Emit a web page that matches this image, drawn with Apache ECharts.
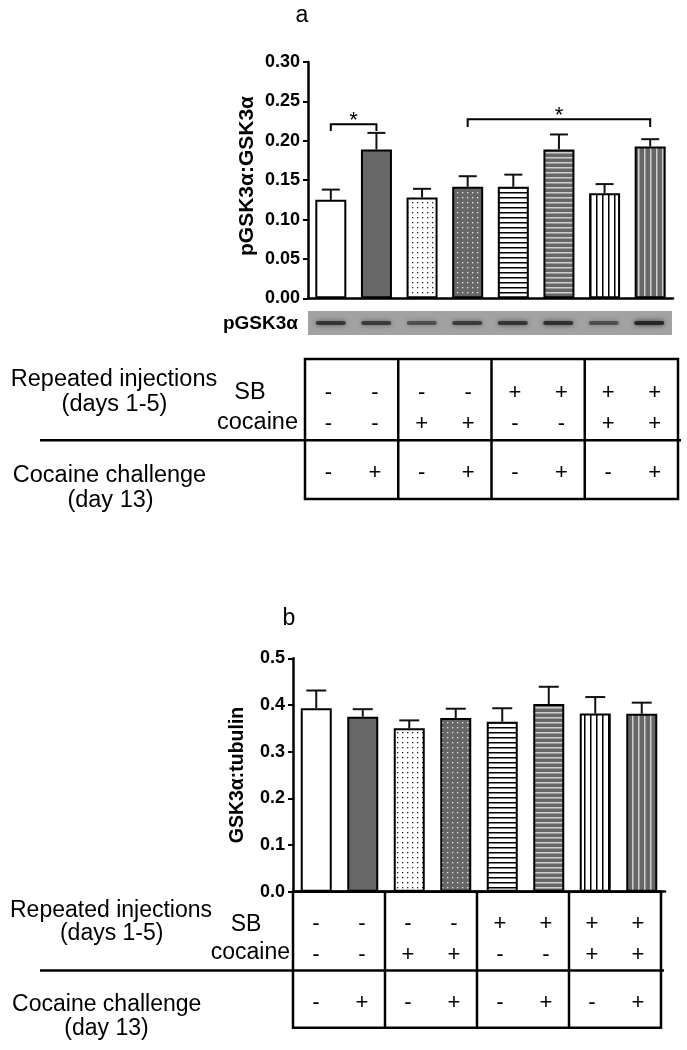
<!DOCTYPE html>
<html><head><meta charset="utf-8">
<script src="https://cdn.jsdelivr.net/npm/echarts@6/dist/echarts.min.js"></script>
<style>html,body{margin:0;padding:0;background:#fff}#c{width:687px;height:1050px}</style>
</head><body><div id="c"></div>
<script>
// ---- data ----
const groups = ['G1','G2','G3','G4','G5','G6','G7','G8'];
const pMeans  = [0.125, 0.189, 0.128, 0.1415, 0.1415, 0.189, 0.1335, 0.1927];
const pErrTop = [0.138, 0.210, 0.139, 0.155, 0.157, 0.208, 0.145, 0.202];
const tMeans  = [0.393, 0.375, 0.350, 0.372, 0.364, 0.402, 0.382, 0.381];
const tErrTop = [0.431, 0.391, 0.367, 0.392, 0.393, 0.439, 0.417, 0.405];
const pAxis = [0, 0.30, 0.05];   // min, max, step
const tAxis = [0, 0.5, 0.1];
const sbSigns        = ['-','-','-','-','+','+','+','+'];
const cocaineSigns   = ['-','-','+','+','-','-','+','+'];
const challengeSigns = ['-','+','-','+','-','+','-','+'];
const blotIntensity  = [0.75, 0.7, 0.55, 0.7, 0.75, 0.8, 0.55, 0.9];
// significance brackets: [fromIndex, toIndex, legBottom, top]
const sigBrackets = [[0, 1, 0.2125, 0.221], [3, 7, 0.2176, 0.2273]];

// ---- styles ----
const FONT = 'Liberation Sans';
function pat(bg, fg, kind){
  const c = document.createElement('canvas');
  let w = 5, h = 5;
  if (kind === 'h') { w = 4; h = 5; }
  if (kind === 'v') { w = 6; h = 4; }
  c.width = w; c.height = h;
  const g = c.getContext('2d');
  g.fillStyle = bg; g.fillRect(0, 0, w, h);
  g.fillStyle = fg;
  if (kind === 'dot') g.fillRect(2, 2, 1.3, 1.3);
  if (kind === 'h') g.fillRect(0, 2, w, 1.5);
  if (kind === 'v') g.fillRect(2, 0, 1.5, h);
  return {image: c, repeat: 'repeat'};
}
const DARK = '#676767';
const fills = ['#ffffff', DARK, pat('#ffffff','#222','dot'), pat(DARK,'#e6e6e6','dot'),
               pat('#ffffff','#000','h'), pat(DARK,'#cfcfcf','h'),
               pat('#ffffff','#000','v'), pat(DARK,'#cfcfcf','v')];

const rowFrac = {sb: 0.24, coc: 0.462, mid: 0.58, chal: 0.817};

function errRender(cap){
  return function(params, api){
    const i = api.value(0);
    const p0 = api.coord([i, api.value(1)]);
    const p1 = api.coord([i, api.value(2)]);
    const st = {stroke: '#111', lineWidth: 2};
    return {type: 'group', children: [
      {type: 'line', shape: {x1: p0[0], y1: p0[1], x2: p1[0], y2: p1[1]}, style: st},
      {type: 'line', shape: {x1: p1[0]-cap, y1: p1[1], x2: p1[0]+cap, y2: p1[1]}, style: st}
    ]};
  };
}
function bracketRender(params, api){
  const a0 = api.coord([api.value(0), api.value(2)]);
  const a1 = api.coord([api.value(0), api.value(3)]);
  const b0 = api.coord([api.value(1), api.value(2)]);
  const b1 = api.coord([api.value(1), api.value(3)]);
  return {type: 'group', children: [
    {type: 'polyline', shape: {points: [a0, a1, b1, b0]}, style: {stroke: '#000', lineWidth: 2, fill: null}},
    {type: 'text', x: (a1[0]+b1[0])/2, y: a1[1]-3, style: {text: '*', fontSize: 22, fontFamily: FONT, fill: '#000', align: 'center', verticalAlign: 'middle'}}
  ]};
}
function blotRender(params, api){
  const p = api.coord([api.value(0), 0.5]);
  const v = api.value(1);
  const col = 'rgba(30,30,30,' + v + ')';
  return {type: 'rect', shape: {x: p[0]-15, y: p[1]-2, width: 30, height: 4, r: 2},
          style: {fill: col, shadowBlur: 5, shadowColor: col}};
}
function tableRender(lineStartX, fs){
  return function(params, api){
    const i = params.dataIndex;
    const cs = params.coordSys;
    const x = api.coord([i, 0])[0];
    const yAt = f => cs.y + f * cs.height;
    const tf = {fontSize: fs, fontFamily: FONT, fill: '#000', align: 'center', verticalAlign: 'middle'};
    const kids = [
      {type: 'text', x: x, y: yAt(rowFrac.sb), style: Object.assign({text: sbSigns[i]}, tf)},
      {type: 'text', x: x, y: yAt(rowFrac.coc), style: Object.assign({text: cocaineSigns[i]}, tf)},
      {type: 'text', x: x, y: yAt(rowFrac.chal), style: Object.assign({text: challengeSigns[i]}, tf)}
    ];
    if (i === 0) {
      const ls = {stroke: '#000', lineWidth: 2.5};
      kids.push({type: 'rect', shape: {x: cs.x, y: cs.y, width: cs.width, height: cs.height}, style: {fill: null, stroke: '#000', lineWidth: 2.5}});
      kids.push({type: 'line', shape: {x1: lineStartX, y1: yAt(rowFrac.mid), x2: cs.x + cs.width + 3, y2: yAt(rowFrac.mid)}, style: ls});
      [2, 4, 6].forEach(b => {
        const xb = (api.coord([b-1, 0])[0] + api.coord([b, 0])[0]) / 2;
        kids.push({type: 'line', shape: {x1: xb, y1: cs.y, x2: xb, y2: cs.y + cs.height}, style: ls});
      });
    }
    return {type: 'group', children: kids};
  };
}

const axisLineStyle = {lineStyle: {color: '#000', width: 2.5}};
function valueAxis(gi, ax, dec){
  return {type: 'value', gridIndex: gi, min: ax[0], max: ax[1], interval: ax[2],
    axisLine: Object.assign({show: true}, axisLineStyle),
    axisTick: {show: true, length: 5, lineStyle: {color: '#000', width: 2}},
    axisLabel: {formatter: v => v.toFixed(dec), fontSize: 18, fontWeight: 'bold', fontFamily: FONT, color: '#000', margin: 8},
    splitLine: {show: false}};
}
function catAxis(gi){
  return {type: 'category', gridIndex: gi, data: groups,
    axisLine: Object.assign({show: true}, axisLineStyle), axisTick: {show: false}, axisLabel: {show: false}};
}
function hiddenCat(gi){ return {type: 'category', gridIndex: gi, data: groups, show: false}; }
function hiddenVal(gi){ return {type: 'value', gridIndex: gi, min: 0, max: 1, show: false}; }

function txt(text, x, y, fs, opt){
  return Object.assign({type: 'text', x: x, y: y,
    style: Object.assign({text: text, fontSize: fs, fontFamily: FONT, fill: '#000', align: 'center', verticalAlign: 'middle'}, (opt && opt.style) || {})},
    (opt && opt.el) || {});
}

const chart = echarts.init(document.getElementById('c'), null, {renderer: 'canvas'});
chart.setOption({
  animation: false,
  backgroundColor: '#fff',
  grid: [
    {left: 308, top: 62, width: 365, height: 236.3},
    {left: 308, top: 311, width: 364, height: 24, show: true, backgroundColor: '#a2a2a2', borderWidth: 0},
    {left: 305, top: 359, width: 373, height: 140},
    {left: 293, top: 658.3, width: 372, height: 233.4},
    {left: 293, top: 891.7, width: 368, height: 136}
  ],
  xAxis: [catAxis(0), hiddenCat(1), hiddenCat(2), catAxis(3), hiddenCat(4)],
  yAxis: [valueAxis(0, pAxis, 2), hiddenVal(1), hiddenVal(2), valueAxis(3, tAxis, 1), hiddenVal(4)],
  series: [
    {type: 'bar', xAxisIndex: 0, yAxisIndex: 0, barWidth: 31,
     itemStyle: {borderColor: '#000', borderWidth: 2},
     data: pMeans.map((v, i) => ({value: v, itemStyle: {color: fills[i]}}))},
    {type: 'custom', xAxisIndex: 0, yAxisIndex: 0, z: 3, renderItem: errRender(9),
     data: pMeans.map((v, i) => [i, v, pErrTop[i]])},
    {type: 'custom', xAxisIndex: 0, yAxisIndex: 0, z: 3, renderItem: bracketRender, data: sigBrackets},
    {type: 'custom', xAxisIndex: 1, yAxisIndex: 1, renderItem: blotRender,
     data: blotIntensity.map((v, i) => [i, v])},
    {type: 'custom', xAxisIndex: 2, yAxisIndex: 2, renderItem: tableRender(40, 22),
     data: groups.map((g, i) => [i, 0])},
    {type: 'bar', xAxisIndex: 3, yAxisIndex: 3, barWidth: 31,
     itemStyle: {borderColor: '#000', borderWidth: 2},
     data: tMeans.map((v, i) => ({value: v, itemStyle: {color: fills[i]}}))},
    {type: 'custom', xAxisIndex: 3, yAxisIndex: 3, z: 3, renderItem: errRender(10),
     data: tMeans.map((v, i) => [i, v, tErrTop[i]])},
    {type: 'custom', xAxisIndex: 4, yAxisIndex: 4, renderItem: tableRender(40, 22),
     data: groups.map((g, i) => [i, 0])}
  ],
  graphic: [
    txt('a', 302, 16, 23),
    txt('b', 289, 618.5, 23),
    txt('pGSK3α:GSK3α', 247.5, 176, 21, {style: {fontWeight: 'bold'}, el: {rotation: Math.PI/2}}),
    txt('GSK3α:tubulin', 238, 775, 19.5, {style: {fontWeight: 'bold'}, el: {rotation: Math.PI/2}}),
    txt('pGSK3α', 298, 324, 19, {style: {fontWeight: 'bold', align: 'right'}}),
    // top table labels
    txt('Repeated injections', 114, 380, 23.5),
    txt('(days 1-5)', 114.5, 405, 23.5),
    txt('SB', 250, 393, 23.5),
    txt('cocaine', 298, 423, 23.5, {style: {align: 'right'}}),
    txt('Cocaine challenge', 109.5, 476, 23.5),
    txt('(day 13)', 110.5, 501, 23.5),
    // bottom table labels
    txt('Repeated injections', 111, 911, 23),
    txt('(days 1-5)', 111.7, 934, 23),
    txt('SB', 246, 925, 23),
    txt('cocaine', 290, 953, 23, {style: {align: 'right'}}),
    txt('Cocaine challenge', 106.7, 1005, 23),
    txt('(day 13)', 106.5, 1029, 23)
  ]
});
</script>
</body></html>
